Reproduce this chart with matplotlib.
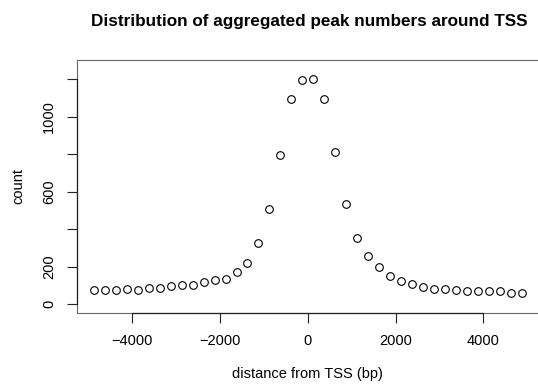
import matplotlib
matplotlib.use("Agg")
import matplotlib.pyplot as plt

# bin centres (bp) and aggregated peak counts
distance = [-4875, -4625, -4375, -4125, -3875, -3625, -3375, -3125, -2875, -2625,
            -2375, -2125, -1875, -1625, -1375, -1125, -875, -625, -375, -125,
            125, 375, 625, 875, 1125, 1375, 1625, 1875, 2125, 2375,
            2625, 2875, 3125, 3375, 3625, 3875, 4125, 4375, 4625, 4875]
count = [73, 73, 73, 78, 74, 83, 87, 98, 100, 101,
         119, 126, 133, 171, 221, 324, 509, 794, 1093, 1198,
         1200, 1095, 810, 532, 351, 254, 198, 148, 123, 105,
         89, 80, 82, 73, 69, 69, 69, 71, 57, 57]
xticks = [-4000, -2000, 0, 2000, 4000]
yticks = [0, 200, 400, 600, 800, 1000, 1200]
ylabels = ["0", "200", "", "600", "", "1000", ""]

plt.rcParams["font.family"] = ["Liberation Sans", "DejaVu Sans"]

fig = plt.figure(figsize=(5.38, 3.91), dpi=100)
ax = fig.add_axes([0.1426, 0.1995, 0.8591, 0.6483])

ax.plot(distance, count, linestyle="none", marker="o", markersize=5.5,
        markerfacecolor="none", markeredgecolor="black", markeredgewidth=0.8)

xlim = (-5267, 5267)
ylim = (-48, 1305)
ax.set_xlim(xlim)
ax.set_ylim(ylim)
ax.set_xticks(xticks)
ax.set_xticklabels([f"{t:d}".replace("-", "\u2212") for t in xticks])
ax.set_yticks(yticks)
ax.set_yticklabels(ylabels, rotation=90, va="center")
ax.tick_params(direction="out", length=7, width=0.8, labelsize=10.5, pad=8,
               color="#222222")

# R-style box (lighter) plus axis lines spanning first to last tick
for s in ax.spines.values():
    s.set_linewidth(0.8)
    s.set_color("#666666")
ax.spines["right"].set_visible(False)
ax.plot([xticks[0], xticks[-1]], [ylim[0]] * 2, color="#222222", lw=0.9,
        clip_on=False, zorder=3)
ax.plot([xlim[0]] * 2, [yticks[0], yticks[-1]], color="#222222", lw=0.9,
        clip_on=False, zorder=3)

ax.set_xlabel("distance from TSS (bp)", fontsize=10.5, labelpad=14)
ax.set_ylabel("count", fontsize=10.5, labelpad=12)
fig.text(0.574, 0.945, "Distribution of aggregated peak numbers around TSS",
         ha="center", va="center", fontsize=12.3, fontweight="bold")

fig.savefig("out.png", dpi=100)
